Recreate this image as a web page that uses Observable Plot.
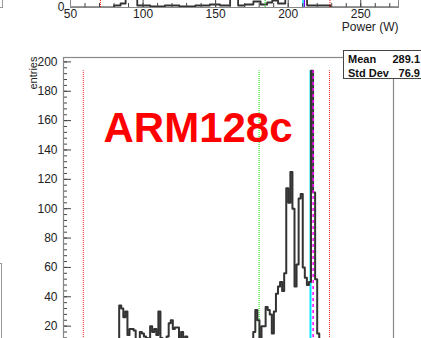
<!DOCTYPE html>
<html>
<head>
<meta charset="utf-8">
<script src="https://cdn.jsdelivr.net/npm/d3@7"></script>
<script src="https://cdn.jsdelivr.net/npm/@observablehq/plot@0.6"></script>
<style>
  html, body { margin: 0; padding: 0; background: #fff; }
  #page { position: relative; width: 421px; height: 338px; overflow: hidden;
          font-family: "Liberation Sans", Arial, Helvetica, sans-serif; }
  #page svg { position: absolute; left: 0; }
  .edge { position: absolute; border-color: #999; border-style: solid; border-width: 0; }
  #stats { position: absolute; left: 343px; top: 50px; width: 90px; height: 29px;
           background: #fff; border: 1px solid #444; font-weight: bold; font-size: 11px;
           color: #111; box-sizing: border-box; padding: 1px 0 0 4px; }
  #stats .row { position: relative; height: 14px; line-height: 14px; }
  #stats .val { position: absolute; right: 12px; top: 0; }
</style>
</head>
<body>
<div id="page"></div>
<script>
// ---------- upper panel: power spectrum (only its lower edge is in view) ----------
const powerEdges  = [50, 80, 84.5, 88, 96, 105, 115, 125, 136, 146, 153, 160, 165.5, 170, 176, 181, 185.5, 189, 193, 198, 213, 229, 276];
const powerCounts = [0, 2, 4, 90, 2, 1, 2, 1, 2, 3, 2, 85, 2, 3, 6, 3, 5, 7, 4, 120, 2, 0];
const powerTicks  = [50, 100, 150, 200, 250];
const powerLowCut = 70.6, powerMean = 184.1, powerPeakEdge = 210.2, powerPeak = 211.2, powerHighCut = 228.8;

// ---------- main panel: ARM128c ----------
const binStart = 52, binWidth = 2.5;
const counts = [
  0,0,1,0,0,0,2,0,1,0,0,0,1,0,0,2,0,1,0,0,3,0,1,2,0,3,
  4,34,32,26,30,14,18,18,17,8,9,16,15,13,12,10,20,16,18,14,30,12,11,9,13,22,24,18,19,19,7,16,9,13,6,5,3,
  6,3,5,8,4,2,6,3,7,4,5,2,6,9,4,3,7,5,2,6,8,3,5,7,4,6,9,5,8,
  16,31,24,6,20,20,33,31,28,15,30,42,47,50,44,56,114,104,125,100,47,62,107,110,60,53,48,50,194,111,52,15,8,
  5,3,4,2,1,2,0,1,1,0,2,0,0,1,0,0,0,1,0,0,0,0,1,0,0,0,0,0,0,0,0,0,0,0,0
];
const yTicks = [0, 20, 40, 60, 80, 100, 120, 140, 160, 180, 200];
const yLabels = [20, 40, 60, 80, 100, 120, 140, 160, 180, 200];
const label = "ARM128c";
const statMean = 289.1, statStdDev = 76.9;
const lowCut = 76, highCut = 374.4, peakEdge = 351.4, peakCentre = 354.6;

const font = "Liberation Sans, Arial, Helvetica, sans-serif";
const page = document.getElementById("page");

// step outline helpers
function stepsFromEdges(edges, values) {
  const pts = values.map((v, i) => ({x: edges[i], y: v}));
  pts.push({x: edges[edges.length - 1], y: values[values.length - 1]});
  return pts;
}
const mainEdges = d3.range(counts.length + 1).map(i => binStart + i * binWidth);
const mainSteps = stepsFromEdges(mainEdges, counts);
const powerSteps = stepsFromEdges(powerEdges, powerCounts);
const maxCount = d3.max(counts);

// ---- upper panel ----
const upFrameH = 150;
const upper = Plot.plot({
  width: 421, height: upFrameH + 35,
  marginLeft: 70, marginRight: 23, marginTop: 0, marginBottom: 35,
  style: {background: "transparent", fontFamily: font, overflow: "visible"},
  x: {domain: [50, 276]},
  y: {domain: [0, upFrameH]},
  marks: [
    Plot.line(powerSteps, {x: "x", y: "y", curve: "step-after", stroke: "#333", strokeWidth: 1.8, clip: true}),
    Plot.ruleX([powerLowCut, powerHighCut], {y1: 0, y2: upFrameH, stroke: "#ff0000", strokeDasharray: "1,1"}),
    Plot.ruleX([powerMean], {y1: 0, y2: upFrameH, stroke: "#00dd00", strokeDasharray: "1,1"}),
    Plot.ruleX([powerPeakEdge], {y1: 0, y2: upFrameH, stroke: "#00e5ff", strokeWidth: 1.5}),
    Plot.ruleX([powerPeak], {y1: 0, y2: upFrameH, stroke: "#8000ff", strokeWidth: 1.2}),
    Plot.tickX(d3.range(50, 276, 10), {x: d => d, stroke: "#444", insetTop: upFrameH - 4}),
    Plot.tickX(powerTicks, {x: d => d, stroke: "#444", insetTop: upFrameH - 8}),
    Plot.frame({stroke: "#888"}),
    Plot.axisX({ticks: powerTicks, tickSize: 0, tickPadding: 2, fontSize: 12, label: null, fill: "#222"}),
    Plot.axisY({ticks: [0], tickSize: 0, tickPadding: 6, fontSize: 12, label: null, fill: "#222"}),
    Plot.text(["Power (W)"], {frameAnchor: "bottom-right", textAnchor: "end", dy: 23, fontSize: 12, fill: "#222"})
  ]
});
upper.style.top = (7 - upFrameH) + "px";
page.appendChild(upper);

// ---- main panel ----
const frameW = 421 - 63 - 28;
const main = Plot.plot({
  width: 421, height: 365,
  marginLeft: 63, marginRight: 28, marginTop: 57, marginBottom: 10,
  style: {background: "transparent", fontFamily: font, overflow: "visible"},
  x: {domain: [52, 452], axis: null},
  y: {domain: [0, 203]},
  marks: [
    Plot.ruleX([lowCut, highCut], {y1: 0, y2: maxCount, stroke: "#ff2020", strokeDasharray: "1,1"}),
    Plot.ruleX([statMean], {y1: 0, y2: maxCount, stroke: "#00ee00", strokeDasharray: "1,1"}),
    Plot.ruleX([peakEdge], {y1: 0, y2: maxCount, stroke: "#00e5ff", strokeWidth: 2}),
    Plot.line(mainSteps, {x: "x", y: "y", curve: "step-after", stroke: "#333", strokeWidth: 2, clip: true}),
    Plot.ruleX([peakCentre], {y1: 0, y2: maxCount, stroke: "#ff00ff", strokeWidth: 1.5, strokeDasharray: "3,3"}),
    Plot.tickY(d3.range(0, 204, 4), {y: d => d, stroke: "#444", insetRight: frameW - 4}),
    Plot.tickY(yTicks, {y: d => d, stroke: "#444", insetRight: frameW - 8}),
    Plot.frame({stroke: "#888", strokeWidth: 1.2}),
    Plot.axisY({ticks: yLabels, tickSize: 0, tickPadding: 6, fontSize: 12, label: null, fill: "#222"}),
    Plot.text(["entries"], {frameAnchor: "top-left", rotate: -90, textAnchor: "end", dx: -34, dy: -1, fontSize: 11, fill: "#222"}),
    Plot.text([label], {frameAnchor: "top-left", textAnchor: "start", dx: 40, dy: 54.6, fontSize: 42, fontWeight: "bold", fill: "#ff0000"})
  ]
});
main.style.top = "0px";
page.appendChild(main);

// statistics box
const stats = document.createElement("div");
stats.id = "stats";
[["Mean", statMean.toFixed(1)], ["Std Dev", statStdDev.toFixed(1)]].forEach(([k, v]) => {
  const row = document.createElement("div");
  row.className = "row";
  row.innerHTML = `<span>${k}</span><span class="val">${v}</span>`;
  stats.appendChild(row);
});
page.appendChild(stats);

// edges of the neighbouring panels on the left
const e1 = document.createElement("div");
e1.className = "edge";
Object.assign(e1.style, {left: "-1px", top: "-1px", width: "3px", height: "8px", borderRightWidth: "1px", borderBottomWidth: "1px"});
page.appendChild(e1);
const e2 = document.createElement("div");
e2.className = "edge";
Object.assign(e2.style, {left: "-1px", top: "263px", width: "2px", height: "90px", borderRightWidth: "1px", borderTopWidth: "1px"});
page.appendChild(e2);
</script>
</body>
</html>
